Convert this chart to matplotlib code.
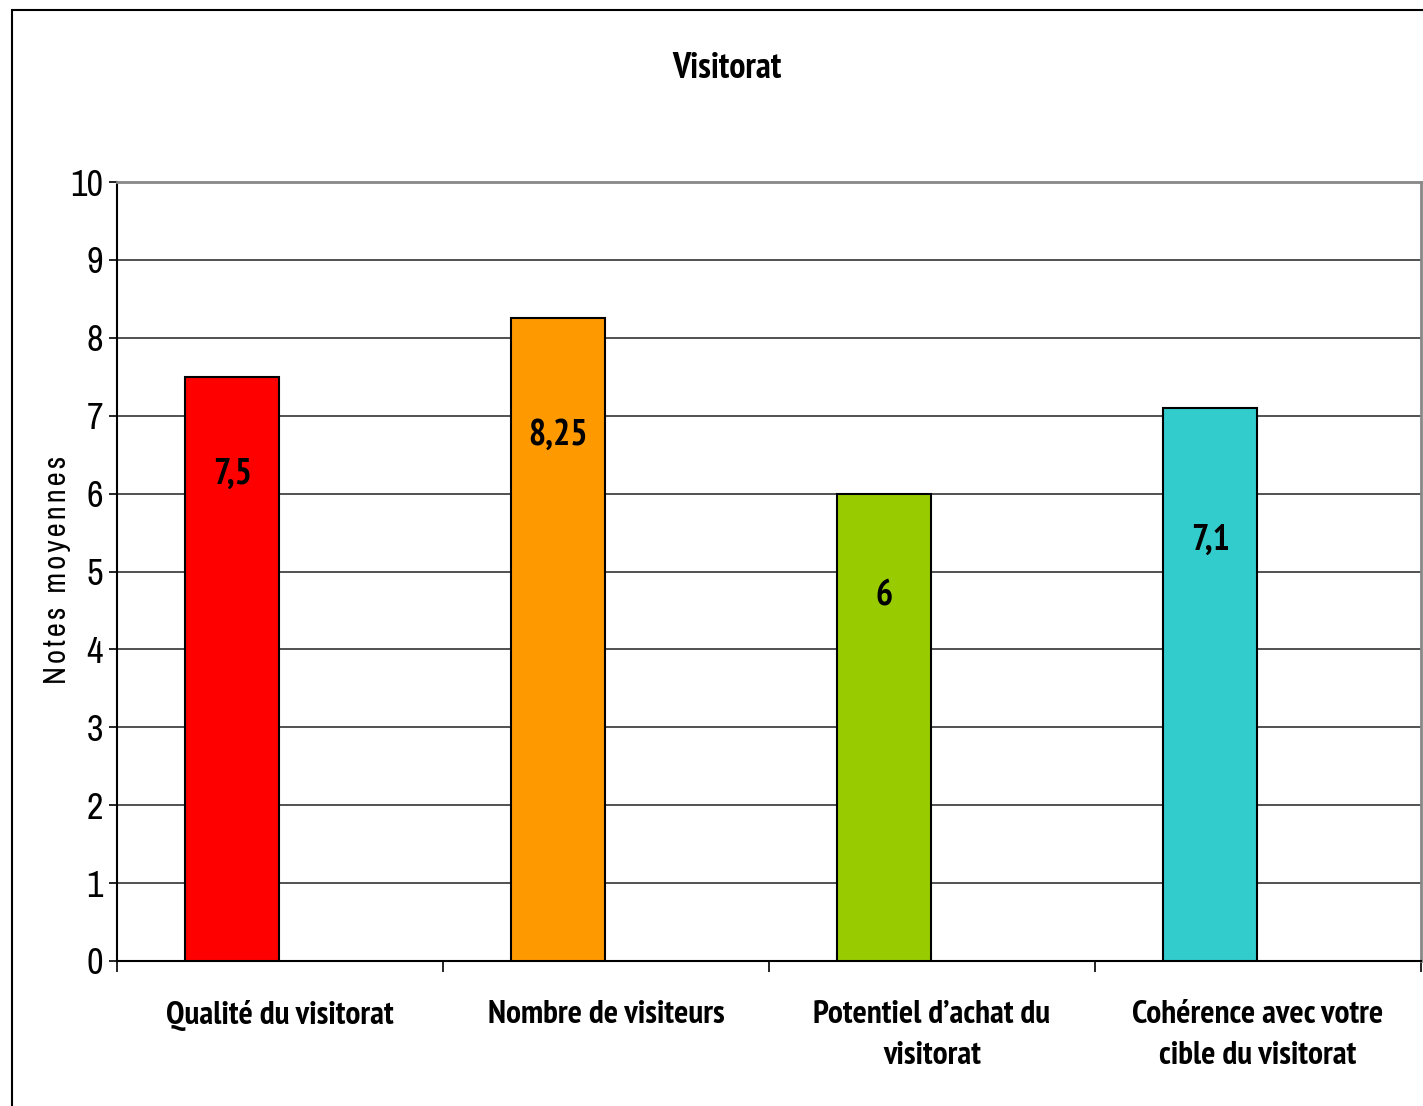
import numpy as np
import matplotlib.pyplot as plt
from matplotlib.patches import Rectangle

# données
categories = ["Qualité du visitorat", "Nombre de visiteurs",
              "Potentiel d’achat du\nvisitorat", "Cohérence avec votre\ncible du visitorat"]
notes = [7.5, 8.25, 6, 7.1]
labels = ["7,5", "8,25", "6", "7,1"]
colors = ["#FF0000", "#FF9900", "#99CC00", "#33CCCC"]
label_drop = [1.25, 1.5, 1.3, 1.7]

plt.rcParams['font.family'] = ['Archivo Narrow', 'DejaVu Sans']
bold_font = ['PT Sans Narrow', 'DejaVu Sans']

fig = plt.figure(figsize=(14.23, 11.06), dpi=100)
ax = fig.add_axes([117 / 1423, 1 - 961 / 1106, 1304 / 1423, 779 / 1106])

x = np.arange(len(categories))
ax.bar(x - 0.147, notes, width=0.29, color=colors, edgecolor="black",
       linewidth=1.5, zorder=3)
for i in range(len(notes)):
    ax.text(x[i] - 0.147, notes[i] - label_drop[i], labels[i], ha="center",
            va="center", fontsize=26, fontweight="bold", family=bold_font, zorder=4)

ax.set_xlim(-0.5, 3.5)
ax.set_ylim(0, 10)
ax.set_yticks(range(0, 11))
ax.yaxis.grid(True, color="#333333", linewidth=1.2, zorder=0)
ax.tick_params(axis="y", labelsize=26, length=6, width=1.2, direction="out", pad=4)

ax.set_xticks(x)
ax.set_xticklabels(categories, fontsize=24, fontweight="bold", family=bold_font,
                   linespacing=1.5)
ax.set_xticks(np.arange(-0.5, 4.0, 1), minor=True)
ax.tick_params(axis="x", which="major", length=0, pad=28)
ax.tick_params(axis="x", which="minor", length=8, width=1.2, direction="out")

ax.spines["left"].set_linewidth(1.5)
ax.spines["bottom"].set_linewidth(1.5)
ax.spines["top"].set_color("#888888")
ax.spines["top"].set_linewidth(2)
ax.spines["right"].set_color("#888888")
ax.spines["right"].set_linewidth(2)

ax.set_ylabel("\u200aN\u200ao\u200at\u200ae\u200as\u2009 \u200am\u200ao\u200ay\u200ae\u200an\u200an\u200ae\u200as",
              fontsize=22)
ax.yaxis.set_label_coords(-0.035, 0.5)

fig.text(727 / 1423, 1 - 68 / 1106, "Visitorat", ha="center", va="center",
         fontsize=26, fontweight="bold", family=bold_font)

top = 1 - 10 / 1106
fig.patches.append(Rectangle((12 / 1423, -0.1), 1.2, top + 0.1,
                             transform=fig.transFigure, fill=False,
                             edgecolor="black", linewidth=1.5))

fig.savefig("out.png", dpi=100)
